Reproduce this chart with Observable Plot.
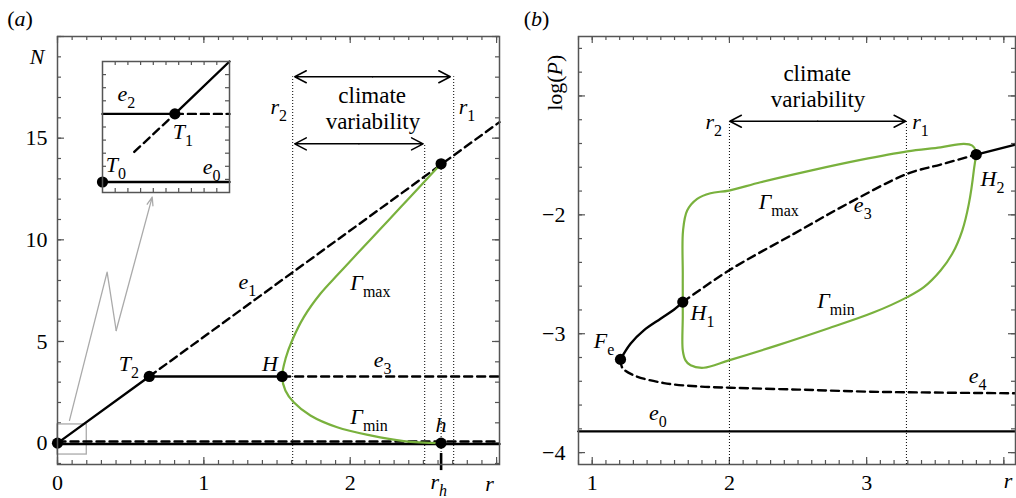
<!DOCTYPE html>
<html>
<head>
<meta charset="utf-8">
<script src="https://cdn.jsdelivr.net/npm/d3@7"></script>
<script src="https://cdn.jsdelivr.net/npm/@observablehq/plot@0.6"></script>
<style>
  html, body { margin: 0; padding: 0; background: #fff; }
  #fig { position: relative; width: 1016px; height: 498px; overflow: hidden; }
  #fig svg { position: absolute; overflow: visible; }
  #fig svg text { font-family: "Liberation Serif", "Times New Roman", serif; }
</style>
</head>
<body>
<div id="fig"></div>
<script>
// ---------- Panel (a): equilibria N(r) ----------
const aE0 = [[0, -0.04], [3.02, -0.04]];
const aE2 = [[0, 0.08], [3.02, 0.08]];
const aE1Stable = [[0, 0], [0.627, 3.28]];
const aE1Unstable = [[0.627, 3.28], [3.02, 15.79]];
const aE3Stable = [[0.627, 3.28], [1.535, 3.28]];
const aE3Unstable = [[1.535, 3.28], [3.02, 3.28]];
// limit cycle: Gamma_min from h up to H, then Gamma_max
const aCycle = [[2.621, 0.0], [2.366, 0.1], [2.138, 0.38], [1.911, 0.78], [1.728, 1.36],
  [1.614, 2.01], [1.557, 2.59], [1.535, 3.28], [1.56, 4.2], [1.603, 5.05], [1.683, 6.2],
  [1.796, 7.35], [1.92, 8.33], [2.047, 9.31], [2.196, 10.46], [2.344, 11.6],
  [2.494, 12.76], [2.621, 13.74]];
const aPoints = [[0, 0], [0.627, 3.28], [1.535, 3.28], [2.621, 13.74], [2.621, 0]];
const aGuides = [[1.607, 18.02], [2.707, 18.02], [2.509, 14.72], [2.621, 13.74]];
const aSpans = [[1.621, 2.684, 18.02], [1.621, 2.498, 14.72]];
const aZoomBox = [[0, 0.2, -0.56, 0.92]];
const aPointer = [[0.082, 1.12], [0.339, 8.41], [0.401, 5.54]];
const aPointerHead = [[0.401, 5.54, 0.647, 12.1]];
const aRh = [[2.621, -1.35, -0.51]];
const aTickX = [0, 1, 2, 3], aTickLabelsX = [0, 1, 2];
const aTickY = [0, 5, 10, 15, 20], aTickLabelsY = [0, 5, 10, 15];
const aLabels = [
  ["*N*", -0.189, 18.67], ["*e*_{1}", 1.236, 7.56], ["*Γ*_{max}", 2.001, 7.51],
  ["*T*_{2}", 0.419, 3.57], ["*H*", 1.398, 3.57], ["*e*_{3}", 2.161, 3.74],
  ["*Γ*_{min}", 2.001, 0.95], ["*h*", 2.582, 0.54], ["*r*_{*h*}", 2.548, -2.25],
  ["*r*", 2.923, -2.33], ["*r*_{2}", 1.455, 16.21], ["*r*_{1}", 2.741, 16.21],
  ["(*a*)", -0.344, 20.54]
];
const aNotes = [["climate", 2.150, 16.72], ["variability", 2.155, 15.46]];

// ---------- Inset of panel (a), its own unit square ----------
const iE0 = [[0, 0.08], [1, 0.08]];
const iE2Stable = [[0, 0.6], [0.57, 0.6]];
const iE2Unstable = [[0.57, 0.6], [1, 0.6]];
const iE1Unstable = [[0.25, 0.31], [0.57, 0.6]];
const iE1Stable = [[0.57, 0.6], [1, 1]];
const iPoints = [[0, 0.08], [0.57, 0.6]];
const iLabels = [["*e*_{2}", 0.118, 0.70], ["*T*_{1}", 0.553, 0.409], ["*T*_{0}", 0.026, 0.16], ["*e*_{0}", 0.79, 0.145]];

// ---------- Panel (b): log(P) versus r ----------
const bE0 = [[0.9, -3.821], [4.085, -3.821]];
const bBranch = [[1.206, -3.216], [1.279, -3.084], [1.376, -2.972], [1.498, -2.874], [1.595, -2.798], [1.66, -2.734]];
const bE3 = [[1.66, -2.734], [1.996, -2.468], [2.469, -2.160], [2.859, -1.908], [3.296, -1.655], [3.539, -1.577], [3.799, -1.493]];
const bUpper = [[3.799, -1.493], [4.085, -1.41]];
const bE4 = [[1.206, -3.216], [1.219, -3.286], [1.303, -3.35], [1.522, -3.415], [1.765, -3.443],
  [2.008, -3.454], [2.5, -3.47], [3.0, -3.487], [3.5, -3.495], [4.085, -3.501]];
const bCycle = [[1.66, -3.14], [1.66, -2.85], [1.66, -2.5], [1.662, -2.132], [1.692, -1.964], [1.765, -1.866],
  [1.862, -1.818], [1.996, -1.796], [2.227, -1.726], [2.591, -1.628], [2.956, -1.538], [3.296, -1.466],
  [3.539, -1.432], [3.709, -1.403], [3.770, -1.418], [3.794, -1.460], [3.781, -1.628], [3.745, -1.908],
  [3.697, -2.132], [3.624, -2.328], [3.539, -2.468], [3.417, -2.608], [3.296, -2.692], [3.053, -2.82],
  [2.713, -2.958], [2.348, -3.098], [1.996, -3.224], [1.813, -3.286], [1.717, -3.266], [1.68, -3.224]];
const bPoints = [[1.206, -3.216], [1.66, -2.734], [3.799, -1.493]];
const bGuides = [[2.0, -1.213], [3.29, -1.213]];
const bSpans = [[2.003, 3.284, -1.213]];
const bTickX = [1, 2, 3, 4], bTickLabelsX = [1, 2, 3];
const bTickY = [-4, -3, -2, -1], bTickLabelsY = [-4, -3, -2];
const bLabels = [
  ["*r*_{2}", 1.826, -1.275], ["*r*_{1}", 3.332, -1.275], ["*Γ*_{max}", 2.214, -1.955],
  ["*e*_{3}", 2.907, -1.972], ["*H*_{2}", 3.830, -1.754], ["*H*_{1}", 1.717, -2.888],
  ["*Γ*_{min}", 2.640, -2.787], ["*F*_{e}", 1.012, -3.124], ["*e*_{4}", 3.745, -3.418],
  ["*e*_{0}", 1.413, -3.729], ["*r*", 4.0, -4.301], ["(*b*)", 0.501, -0.409]
];
const bNotes = [["climate", 2.640, -0.871], ["variability", 2.646, -1.096]];
const bAxisTitle = [["log(*P*)", 0.781, -0.889]];

// ---------- shared styling ----------
const FONT = '"Liberation Serif", "Times New Roman", serif';
const INK = "#000", FRAME = "#555", GREEN = "#79b13d", GREY = "#aaa";
const xy = {x: d => d[0], y: d => d[1]};
const solid = {...xy, stroke: INK, strokeWidth: 2.4};
const dashed = {...solid, strokeDasharray: "8,5"};
const dots = {...xy, r: 5.6, fill: INK};
const dotted = {stroke: INK, strokeWidth: 1, strokeDasharray: "1,2"};
const minus = d => (d < 0 ? "\u2212" + (-d) : String(d));

function frameTicks(xMajor, xMinor, yMajor, yMinor, w, h) {
  const s = {stroke: FRAME, strokeWidth: 1.2};
  const out = [];
  for (const [vals, len] of [[xMajor, 7], [xMinor, 4]]) {
    out.push(Plot.tickX(vals, {x: d => d, insetTop: h - len, ...s}));
    out.push(Plot.tickX(vals, {x: d => d, insetBottom: h - len, ...s}));
  }
  for (const [vals, len] of [[yMajor, 7], [yMinor, 4]]) {
    out.push(Plot.tickY(vals, {y: d => d, insetRight: w - len, ...s}));
    out.push(Plot.tickY(vals, {y: d => d, insetLeft: w - len, ...s}));
  }
  return out;
}
const labels = (data, opts = {}) => Plot.text(data, {
  x: d => d[1], y: d => d[2], text: d => d[0], textAnchor: "start", lineAnchor: "bottom",
  fontSize: 22, fontFamily: FONT, fill: INK, ...opts
});
const axisText = {tickSize: 0, label: null, fontSize: 22, fontFamily: FONT, tickFormat: minus};
// double-headed arrow drawn as two arrows from the middle outward
const spans = (data) => [
  Plot.arrow(data, {x1: d => (d[0] + d[1]) / 2, x2: d => d[0], y1: d => d[2], y2: d => d[2], stroke: INK, strokeWidth: 1.5, headLength: 13, headAngle: 55}),
  Plot.arrow(data, {x1: d => (d[0] + d[1]) / 2, x2: d => d[1], y1: d => d[2], y2: d => d[2], stroke: INK, strokeWidth: 1.5, headLength: 13, headAngle: 55})
];
const style = {fontFamily: FONT, fontSize: "22px", color: INK, background: "transparent", overflow: "visible"};

// ---------- panel (a) ----------
const plotA = Plot.plot({
  width: 508, height: 498, marginLeft: 57, marginRight: 9, marginTop: 36, marginBottom: 34,
  x: {domain: [0, 3.02], label: null}, y: {domain: [-1.05, 20], label: null}, style,
  marks: [
    ...frameTicks(aTickX, d3.range(0, 3.02, 0.1), aTickY, d3.range(-1, 20.01, 1), 442, 428),
    Plot.axisX(aTickLabelsX, {...axisText, tickPadding: 10}),
    Plot.axisY(aTickLabelsY, {...axisText, tickPadding: 10}),
    Plot.ruleX(aGuides, {x: d => d[0], y1: -1.05, y2: d => d[1], ...dotted}),
    Plot.rect(aZoomBox, {x1: d => d[0], x2: d => d[1], y1: d => d[2], y2: d => d[3], fill: "none", stroke: GREY, strokeWidth: 1.3}),
    Plot.line(aPointer, {...xy, stroke: GREY, strokeWidth: 1.3}),
    Plot.arrow(aPointerHead, {x1: d => d[0], y1: d => d[1], x2: d => d[2], y2: d => d[3], stroke: GREY, strokeWidth: 1.3, headLength: 10, headAngle: 40}),
    Plot.line(aE2, dashed),
    Plot.line(aE0, solid),
    Plot.line(aE1Stable, solid),
    Plot.line(aE1Unstable, dashed),
    Plot.line(aE3Stable, solid),
    Plot.line(aE3Unstable, dashed),
    Plot.line(aCycle, {...xy, stroke: GREEN, strokeWidth: 2.2, curve: "catmull-rom"}),
    Plot.ruleX(aRh, {x: d => d[0], y1: d => d[1], y2: d => d[2], stroke: INK, strokeWidth: 2.6}),
    ...spans(aSpans),
    Plot.dot(aPoints, dots),
    labels(aLabels),
    labels(aNotes, {textAnchor: "middle", fontSize: 23}),
    Plot.frame({stroke: FRAME, strokeWidth: 1.5})
  ]
});

// ---------- inset ----------
const plotInset = Plot.plot({
  width: 127, height: 131, margin: 0,
  x: {domain: [0, 1], axis: null}, y: {domain: [0, 1], axis: null}, style,
  marks: [
    Plot.frame({fill: "white", stroke: "none"}),
    ...frameTicks([], d3.range(0.1, 0.95, 0.1), [], d3.range(0.1, 0.95, 0.1), 127, 131),
    Plot.line(iE0, solid),
    Plot.line(iE2Stable, solid),
    Plot.line(iE2Unstable, dashed),
    Plot.line(iE1Unstable, dashed),
    Plot.line(iE1Stable, solid),
    Plot.dot(iPoints, dots),
    labels(iLabels),
    Plot.frame({stroke: FRAME, strokeWidth: 1.5})
  ]
});

// ---------- panel (b) ----------
const plotB = Plot.plot({
  width: 508, height: 498, marginLeft: 70, marginRight: 1, marginTop: 36, marginBottom: 34,
  x: {domain: [0.9, 4.085], label: null}, y: {domain: [-4.1, -0.5], label: null}, style,
  marks: [
    ...frameTicks(bTickX, d3.range(0.9, 4.09, 0.1), bTickY, d3.range(-4, -0.55, 0.2), 437, 428),
    Plot.axisX(bTickLabelsX, {...axisText, tickPadding: 10}),
    Plot.axisY(bTickLabelsY, {...axisText, tickPadding: 13}),
    Plot.ruleX(bGuides, {x: d => d[0], y1: -4.1, y2: d => d[1], ...dotted}),
    Plot.line(bE0, solid),
    Plot.line(bE4, {...dashed, curve: "catmull-rom"}),
    Plot.line(bE3, {...dashed, curve: "catmull-rom"}),
    Plot.line(bBranch, {...solid, curve: "catmull-rom"}),
    Plot.line(bUpper, solid),
    Plot.line(bCycle, {...xy, stroke: GREEN, strokeWidth: 2.2, curve: "catmull-rom-closed"}),
    ...spans(bSpans),
    Plot.dot(bPoints, dots),
    labels(bLabels),
    labels(bNotes, {textAnchor: "middle", fontSize: 23}),
    labels(bAxisTitle, {textAnchor: "middle", rotate: -90}),
    Plot.frame({stroke: FRAME, strokeWidth: 1.5})
  ]
});

// Turn the light markup in label strings (*italic*, _{subscript}) into tspans,
// and pin every label to the serif face.
function richText(svg) {
  const NS = "http://www.w3.org/2000/svg";
  svg.querySelectorAll("text").forEach(el => {
    el.setAttribute("font-family", FONT);
    el.style.fontFamily = FONT;
    const s = el.textContent;
    if (!/[*_]/.test(s)) return;
    while (el.firstChild) el.removeChild(el.firstChild);
    const re = /_\{([^}]*)\}|\*([^*]*)\*|([^*_]+)/g;
    let m;
    while ((m = re.exec(s))) {
      const t = document.createElementNS(NS, "tspan");
      if (m[1] !== undefined) {
        const it = /^\*.*\*$/.test(m[1]);
        t.textContent = m[1].replace(/\*/g, "");
        t.setAttribute("font-size", "16px");
        t.setAttribute("dy", "7");
        t.setAttribute("font-style", it ? "italic" : "normal");
      } else if (m[2] !== undefined) {
        t.textContent = m[2];
        t.setAttribute("font-style", "italic");
      } else {
        t.textContent = m[3];
      }
      el.appendChild(t);
    }
  });
}

const fig = document.getElementById("fig");
for (const [svg, left, top] of [[plotA, 0, 0], [plotB, 508, 0], [plotInset, 102, 61]]) {
  richText(svg);
  svg.style.left = left + "px";
  svg.style.top = top + "px";
  fig.appendChild(svg);
}
</script>
</body>
</html>
